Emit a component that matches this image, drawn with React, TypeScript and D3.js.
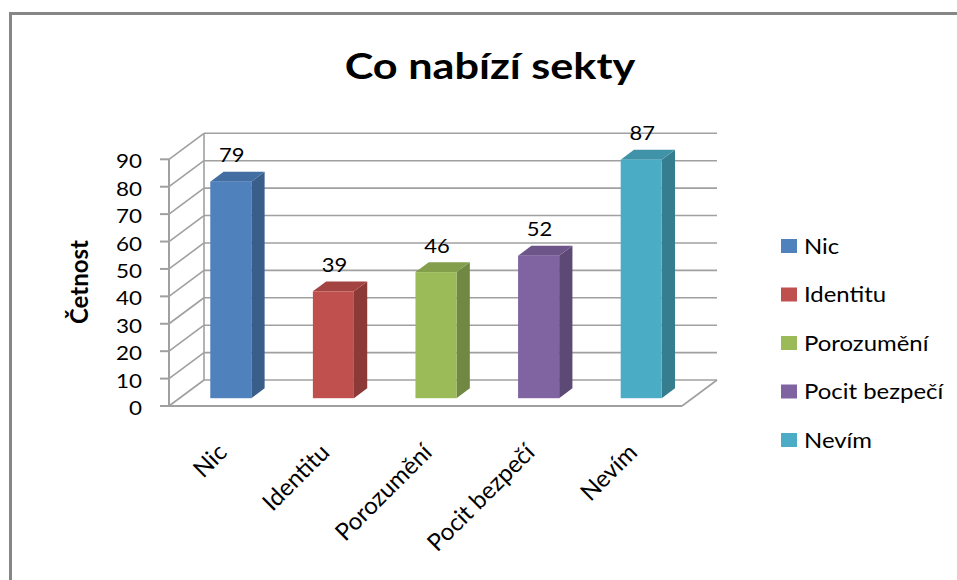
import React from "react";
import * as d3 from "d3";

const categories = ["Nic", "Identitu", "Porozumění", "Pocit bezpečí", "Nevím"];
const values = [79, 39, 46, 52, 87];
const colors = ["#4F81BD", "#C0504D", "#9BBB59", "#8064A2", "#4BACC6"];
const yTicks = [0, 10, 20, 30, 40, 50, 60, 70, 80, 90];
const title = "Co nabízí sekty";
const yTitle = "Četnost";

const W = 957;
const H = 580;
const FONT = "Lato, 'Open Sans', sans-serif";

export default function App() {
  const y = d3.scaleLinear().domain([0, 90]).range([406, 159.3]);
  const x = d3.scaleBand<string>().domain(categories).range([169, 682]).padding(0);
  const depth = { dx: 35, dy: -26 };
  const frontF = 0.3;
  const barDepthF = 0.38;
  const barW = x.bandwidth() * 0.4;
  const legendY = d3.scalePoint<string>().domain(categories).range([246, 440]);

  const gridColor = "#a0a0a0";
  const backX0 = 169 + depth.dx;
  const backX1 = 682 + depth.dx;

  return (
    <svg
      width={W}
      height={H}
      style={{ position: "absolute", left: 0, top: 0, background: "#fff" }}
      fontFamily={FONT}
    >
      {/* frame */}
      <path d={`M10.5,${H} V13.5 H${W}`} fill="none" stroke="#868686" strokeWidth={3} />

      {/* title */}
      <text
        transform="translate(490,79) scale(1.2,1)"
        textAnchor="middle"
        fontSize={36}
        fontWeight="bold"
        fill="#000"
      >
        {title}
      </text>

      {/* back wall gridlines */}
      {yTicks.map((t) => (
        <line
          key={"bg" + t}
          x1={backX0}
          x2={backX1}
          y1={y(t) + depth.dy}
          y2={y(t) + depth.dy}
          stroke={gridColor}
          strokeWidth={1.6}
        />
      ))}
      {/* side wall diagonals */}
      {yTicks.map((t) => (
        <line
          key={"sd" + t}
          x1={169}
          y1={y(t)}
          x2={backX0}
          y2={y(t) + depth.dy}
          stroke={gridColor}
          strokeWidth={1.6}
        />
      ))}
      {/* back wall left edge */}
      <line x1={backX0} x2={backX0} y1={y(0) + depth.dy} y2={y(90) + depth.dy} stroke={gridColor} strokeWidth={1.6} />
      {/* floor */}
      <line x1={169} x2={682} y1={y(0)} y2={y(0)} stroke={gridColor} strokeWidth={2} />
      <line x1={682} y1={y(0)} x2={backX1} y2={y(0) + depth.dy} stroke={gridColor} strokeWidth={1.6} />
      {/* front axis */}
      <line x1={169} x2={169} y1={y(0)} y2={y(90)} stroke={gridColor} strokeWidth={2} />
      {yTicks.map((t) => (
        <line key={"tk" + t} x1={160} x2={169} y1={y(t)} y2={y(t)} stroke={gridColor} strokeWidth={2} />
      ))}
      {yTicks.map((t) => (
        <text
          key={"tl" + t}
          transform={`translate(142,${y(t) + 9}) scale(1.18,1)`}
          textAnchor="end"
          fontSize={19}
          fill="#000"
        >
          {t}
        </text>
      ))}

      {/* y title */}
      <text
        transform={`translate(88,282) rotate(-90)`}
        textAnchor="middle"
        fontSize={24}
        fontWeight="bold"
        fill="#000"
      >
        {yTitle}
      </text>

      {/* bars */}
      {categories.map((c, i) => {
        const cx = (x(c) as number) + x.bandwidth() / 2 + depth.dx * frontF;
        const by = y(0) + depth.dy * frontF;
        const x0 = cx - barW / 2;
        const x1 = cx + barW / 2;
        const ty = by - (y(0) - y(values[i]));
        const ddx = depth.dx * barDepthF;
        const ddy = depth.dy * barDepthF;
        const base = d3.color(colors[i])!;
        const side = base.darker(0.9).formatHex();
        const top = base.darker(0.45).formatHex();
        return (
          <g key={c}>
            <path
              d={`M${x1},${by} L${x1},${ty} L${x1 + ddx},${ty + ddy} L${x1 + ddx},${by + ddy} Z`}
              fill={side}
            />
            <path
              d={`M${x0},${ty} L${x1},${ty} L${x1 + ddx},${ty + ddy} L${x0 + ddx},${ty + ddy} Z`}
              fill={top}
            />
            <rect x={x0} y={ty} width={barW} height={by - ty} fill={colors[i]} />
            <text
              transform={`translate(${cx + 1},${ty - 19.5}) scale(1.1,1)`}
              textAnchor="middle"
              fontSize={20}
              fill="#000"
            >
              {values[i]}
            </text>
          </g>
        );
      })}

      {/* category labels */}
      {categories.map((c) => {
        const cx = (x(c) as number) + x.bandwidth() / 2;
        return (
          <text
            key={"cl" + c}
            transform={`translate(${cx + 2},${448}) rotate(-45)`}
            textAnchor="end"
            dy="0.35em"
            fontSize={24}
            fill="#000"
          >
            {c}
          </text>
        );
      })}

      {/* legend */}
      {categories.map((c, i) => (
        <g key={"lg" + c} transform={`translate(0,${legendY(c)})`}>
          <rect x={781} y={-7} width={16} height={14} fill={colors[i]} />
          <text transform="translate(804,7.5) scale(1.14,1)" fontSize={21} fill="#000">
            {c}
          </text>
        </g>
      ))}
    </svg>
  );
}
